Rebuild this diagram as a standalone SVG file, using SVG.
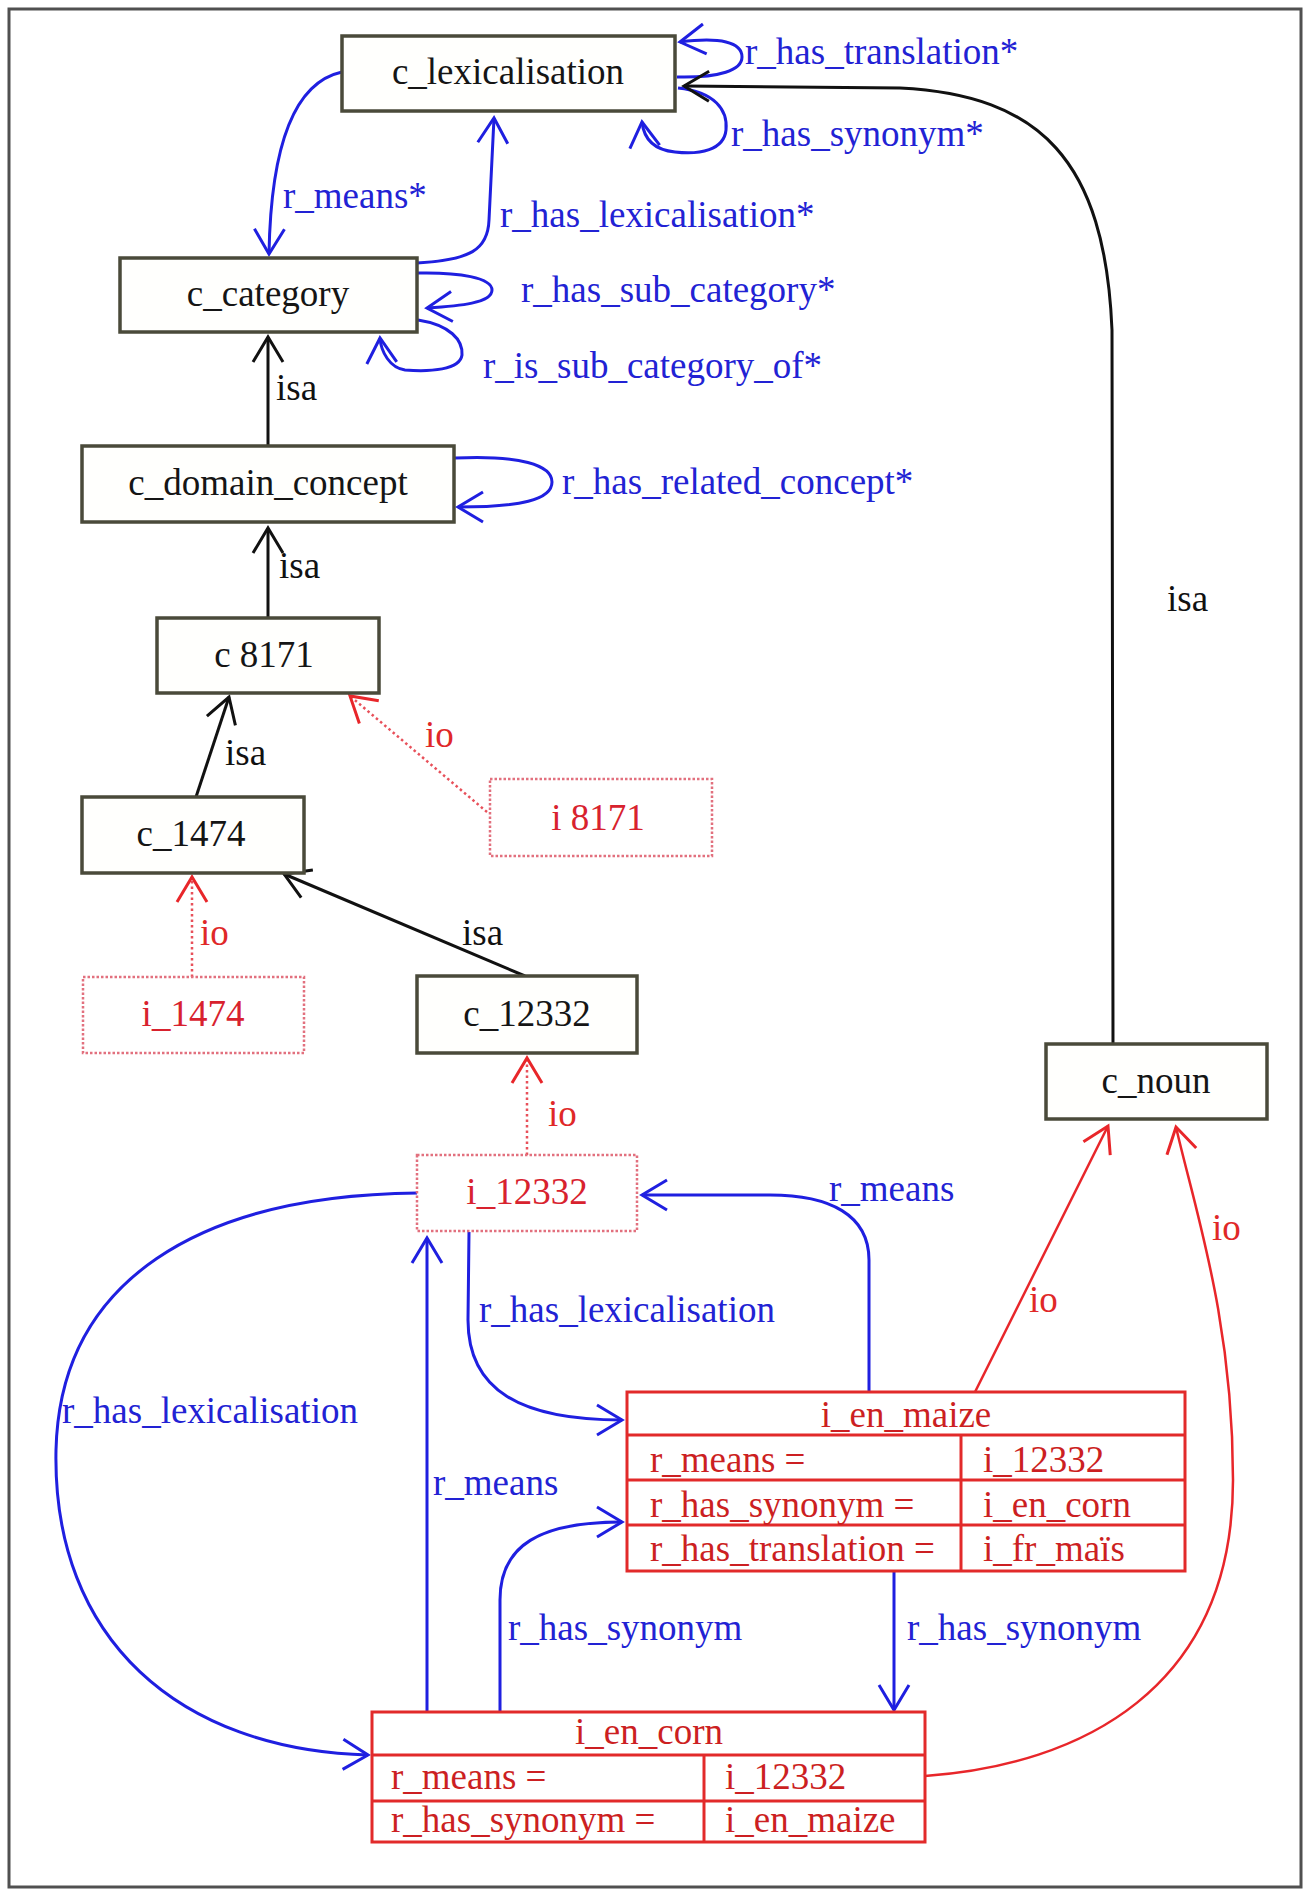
<svg xmlns="http://www.w3.org/2000/svg" width="1306" height="1891" viewBox="0 0 1306 1891">
<style>
text{font-family:"Liberation Serif","Times New Roman",serif;font-size:37px}
.cn rect{fill:#fffffd;stroke:#4a4a3a;stroke-width:3.5}
.cn text{fill:#151515;text-anchor:middle}
.in rect{fill:#fff;stroke:#e2707e;stroke-width:2.5;stroke-dasharray:2.5 2}
.in text{fill:#d8222e;text-anchor:middle}
.tb rect,.tb line{fill:none;stroke:#e22a2a;stroke-width:3}
.tb text{fill:#cc1f22}
.tb text.h{text-anchor:middle}
.eb{fill:none;stroke:#1f1fe0;stroke-width:3;marker-end:url(#mb)}
.ek{fill:none;stroke:#111;stroke-width:3;marker-end:url(#mk)}
.er{fill:none;stroke:#e8262a;stroke-width:2.5;marker-end:url(#mr)}
.ed{fill:none;stroke:#e8505a;stroke-width:2.5;stroke-dasharray:2.5 3;marker-end:url(#mr)}
.lb{fill:#2222d4}
.lk{fill:#111}
.lr{fill:#e02828}
</style>
<defs>
<marker id="mb" viewBox="-30 -20 34 40" refX="0" refY="0" markerWidth="34" markerHeight="40" markerUnits="userSpaceOnUse" orient="auto"><path d="M-25,-15 L0,0 L-25,15" fill="none" stroke="#1f1fe0" stroke-width="3"/></marker>
<marker id="mk" viewBox="-30 -20 34 40" refX="0" refY="0" markerWidth="34" markerHeight="40" markerUnits="userSpaceOnUse" orient="auto"><path d="M-25,-15 L0,0 L-25,15" fill="none" stroke="#111" stroke-width="3"/></marker>
<marker id="mr" viewBox="-30 -20 34 40" refX="0" refY="0" markerWidth="34" markerHeight="40" markerUnits="userSpaceOnUse" orient="auto"><path d="M-25,-15 L0,0 L-25,15" fill="none" stroke="#e8262a" stroke-width="3"/></marker>
</defs>
<rect x="0" y="0" width="1306" height="1891" fill="#fff"/>
<rect x="9" y="9" width="1292" height="1878" fill="#fff" stroke="#505050" stroke-width="3"/>

<g id="connectors">
<path id="e-means-star" class="eb" d="M342,72 C296,82 271,140 269,254"/>
<text class="lb" x="283" y="208">r_means*</text>
<path id="e-haslex-star" class="eb" d="M417,263 C470,260 488,250 489,220 L494,118"/>
<text class="lb" x="500" y="227">r_has_lexicalisation*</text>
<path id="e-trans-star" class="eb" d="M677,77 C720,78 742,70 742,57 C742,42 720,37 680,42"/>
<text class="lb" x="745" y="64">r_has_translation*</text>
<path id="e-syn-star" class="eb" d="M678,88 C715,92 728,110 726,130 C724,150 700,155 675,152 C655,150 644,140 642,122"/>
<text class="lb" x="731" y="146">r_has_synonym*</text>
<path id="e-noun-isa" class="ek" d="M1113,1044 L1112,330 C1105,160 1040,95 900,88 L684,86"/>
<text class="lk" x="1167" y="611">isa</text>
<path id="e-subcat" class="eb" d="M417,273 C460,272 492,278 492,290 C492,303 460,306 427,308"/>
<text class="lb" x="521" y="302">r_has_sub_category*</text>
<path id="e-issubcat" class="eb" d="M418,320 C450,325 463,340 462,355 C460,370 430,372 405,370 C390,368 381,352 380,338"/>
<text class="lb" x="483" y="378">r_is_sub_category_of*</text>
<path id="e-dc-isa" class="ek" d="M268,446 L268,337"/>
<text class="lk" x="276" y="400">isa</text>
<path id="e-related" class="eb" d="M455,458 C520,455 552,465 552,482 C552,500 520,507 458,507"/>
<text class="lb" x="562" y="494">r_has_related_concept*</text>
<path id="e-8171-isa" class="ek" d="M268,618 L268,528"/>
<text class="lk" x="279" y="578">isa</text>
<path id="e-1474-isa" class="ek" d="M196,797 L229,697"/>
<text class="lk" x="225" y="765">isa</text>
<path id="e-i8171-io" class="ed" d="M487,812 L350,696"/>
<text class="lr" x="425" y="747">io</text>
<path id="e-i1474-io" class="ed" d="M192,977 L192,877"/>
<text class="lr" x="200" y="945">io</text>
<path id="e-12332-isa" class="ek" d="M525,976 L284,874"/>
<text class="lk" x="462" y="945">isa</text>
<path id="e-i12332-io" class="ed" d="M527,1155 L527,1058"/>
<text class="lr" x="548" y="1126">io</text>
<path id="e-maize-io" class="er" d="M975,1392 L1108,1126"/>
<text class="lr" x="1029" y="1312">io</text>
<path id="e-corn-io" class="er" d="M925,1776 C1080,1765 1233,1690 1233,1480 C1233,1320 1195,1210 1176,1127"/>
<text class="lr" x="1212" y="1240">io</text>
<path id="e-maize-means" class="eb" d="M869,1392 L869,1260 C869,1215 830,1195 770,1195 L642,1195"/>
<text class="lb" x="829" y="1201">r_means</text>
<path id="e-i12332-lex-maize" class="eb" d="M469,1232 L468,1320 C468,1390 520,1420 622,1420"/>
<text class="lb" x="479" y="1322">r_has_lexicalisation</text>
<path id="e-i12332-lex-corn" class="eb" d="M418,1193 C200,1195 60,1280 56,1450 C52,1640 180,1750 368,1755"/>
<text class="lb" x="62" y="1423">r_has_lexicalisation</text>
<path id="e-corn-means" class="eb" d="M427,1712 L427,1238"/>
<text class="lb" x="433" y="1495">r_means</text>
<path id="e-corn-syn" class="eb" d="M500,1712 L500,1600 C500,1545 540,1522 622,1522"/>
<text class="lb" x="508" y="1640">r_has_synonym</text>
<path id="e-maize-syn" class="eb" d="M894,1571 L894,1710"/>
<text class="lb" x="907" y="1640">r_has_synonym</text>
</g>

<g id="c_lexicalisation" class="cn"><rect x="342" y="36" width="333" height="75"/><text x="508" y="84">c_lexicalisation</text></g>
<g id="c_category" class="cn"><rect x="120" y="258" width="297" height="74"/><text x="268" y="306">c_category</text></g>
<g id="c_domain_concept" class="cn"><rect x="82" y="446" width="372" height="76"/><text x="268" y="495">c_domain_concept</text></g>
<g id="c_8171" class="cn"><rect x="157" y="618" width="222" height="75"/><text x="264" y="667">c  8171</text></g>
<g id="c_1474" class="cn"><rect x="82" y="797" width="222" height="76"/><text x="191" y="846">c_1474</text></g>
<g id="i_8171" class="in"><rect x="490" y="779" width="222" height="77"/><text x="598" y="830">i 8171</text></g>
<g id="i_1474" class="in"><rect x="83" y="977" width="221" height="76"/><text x="193" y="1026">i_1474</text></g>
<g id="c_12332" class="cn"><rect x="417" y="976" width="220" height="77"/><text x="527" y="1026">c_12332</text></g>
<g id="c_noun" class="cn"><rect x="1046" y="1044" width="221" height="75"/><text x="1156" y="1093">c_noun</text></g>
<g id="i_12332" class="in"><rect x="417" y="1155" width="220" height="76"/><text x="527" y="1204">i_12332</text></g>

<g id="i_en_maize" class="tb">
<rect x="627" y="1392" width="558" height="179"/>
<line x1="627" y1="1435" x2="1185" y2="1435"/>
<line x1="627" y1="1480" x2="1185" y2="1480"/>
<line x1="627" y1="1525" x2="1185" y2="1525"/>
<line x1="961" y1="1435" x2="961" y2="1571"/>
<text class="h" x="906" y="1427">i_en_maize</text>
<text x="650" y="1472">r_means =</text><text x="983" y="1472">i_12332</text>
<text x="650" y="1517">r_has_synonym =</text><text x="983" y="1517">i_en_corn</text>
<text x="650" y="1561">r_has_translation =</text><text x="983" y="1561">i_fr_maïs</text>
</g>

<g id="i_en_corn" class="tb">
<rect x="372" y="1712" width="553" height="130"/>
<line x1="372" y1="1755" x2="925" y2="1755"/>
<line x1="372" y1="1801" x2="925" y2="1801"/>
<line x1="704" y1="1755" x2="704" y2="1842"/>
<text class="h" x="649" y="1744">i_en_corn</text>
<text x="391" y="1789">r_means =</text><text x="725" y="1789">i_12332</text>
<text x="391" y="1832">r_has_synonym =</text><text x="725" y="1832">i_en_maize</text>
</g>
</svg>
